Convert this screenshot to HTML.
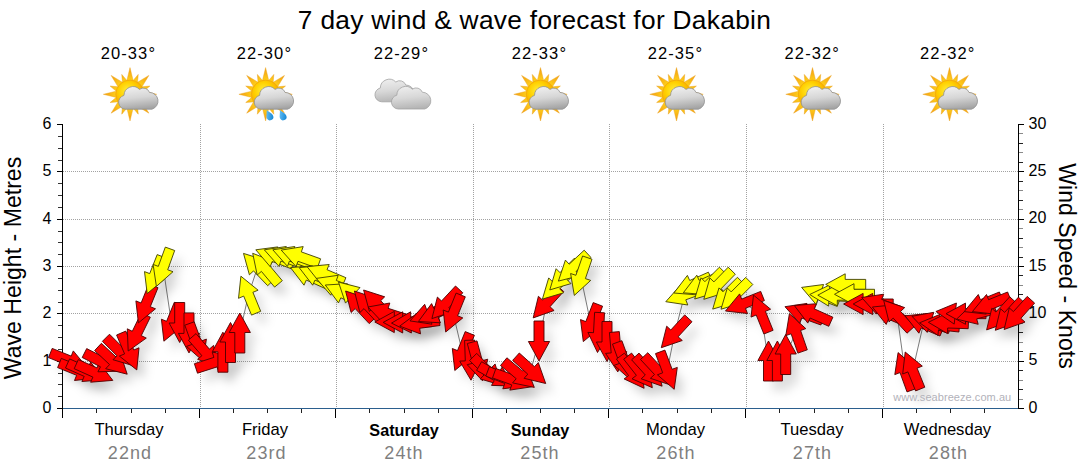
<!DOCTYPE html><html><head><meta charset="utf-8"><title>7 day wind &amp; wave forecast for Dakabin</title><style>
html,body{margin:0;padding:0;background:#fff;}
body{width:1080px;height:475px;position:relative;overflow:hidden;font-family:"Liberation Sans",sans-serif;color:#000;}
.t{position:absolute;white-space:nowrap;line-height:1;}
.c{transform:translateX(-50%);}
#title{left:534.5px;top:7px;font-size:26.3px;letter-spacing:0.3px;}
.temp{top:45px;font-size:16.5px;letter-spacing:1.1px;}
.day{top:422px;font-size:16.6px;}
.date{top:444.1px;font-size:18px;color:#7f7f7f;letter-spacing:1.1px;}
.yl{font-size:16px;}
.yr{font-size:16px;}
#wm{left:893.3px;top:392px;font-size:11px;color:#b2b2ba;letter-spacing:0.06px;}
#lab1{left:13.8px;top:267.6px;font-size:23.1px;transform:translate(-50%,-50%) rotate(-90deg);}
#lab2{left:1066.2px;top:266px;font-size:23.1px;transform:translate(-50%,-50%) rotate(90deg);}

</style></head><body>
<svg width="1080" height="475" viewBox="0 0 1080 475" style="position:absolute;left:0;top:0">
<defs>
<filter id="sh" x="-50%" y="-50%" width="200%" height="200%">
<feGaussianBlur in="SourceGraphic" stdDeviation="5"/>
<feOffset dx="8" dy="10" result="o"/>
</filter>
<radialGradient id="sun" cx="42%" cy="38%" r="62%"><stop offset="0" stop-color="#ffee3c"/><stop offset="0.5" stop-color="#ffd000"/><stop offset="1" stop-color="#f5a000"/></radialGradient>
<linearGradient id="cl" x1="0.3" y1="0" x2="0.5" y2="1"><stop offset="0" stop-color="#f0f0f0"/><stop offset="0.5" stop-color="#d6d6d6"/><stop offset="1" stop-color="#a4a4a4"/></linearGradient><linearGradient id="cl2" x1="0.3" y1="0" x2="0.5" y2="1"><stop offset="0" stop-color="#eeeeee"/><stop offset="0.5" stop-color="#d8d8d8"/><stop offset="1" stop-color="#b4b4b4"/></linearGradient>
<linearGradient id="drop" x1="0" y1="0" x2="1" y2="1"><stop offset="0" stop-color="#7fd0ff"/><stop offset="1" stop-color="#0a7fd0"/></linearGradient>
<linearGradient id="ray" gradientUnits="userSpaceOnUse" x1="0" y1="-13" x2="0" y2="-27"><stop offset="0" stop-color="#ffd21a"/><stop offset="1" stop-color="#f39a12"/></linearGradient>
<g id="sunicon">
 <g fill="url(#ray)" stroke="#e9a21a" stroke-width="0.4">
  <polygon points="0,-26.7 -3.6,-12 3.6,-12"/>
  <polygon points="0,-26.7 -3.6,-12 3.6,-12" transform="rotate(45)"/>
  <polygon points="0,-26.7 -3.6,-12 3.6,-12" transform="rotate(90)"/>
  <polygon points="0,-26.7 -3.6,-12 3.6,-12" transform="rotate(135)"/>
  <polygon points="0,-26.7 -3.6,-12 3.6,-12" transform="rotate(180)"/>
  <polygon points="0,-26.7 -3.6,-12 3.6,-12" transform="rotate(225)"/>
  <polygon points="0,-26.7 -3.6,-12 3.6,-12" transform="rotate(270)"/>
  <polygon points="0,-26.7 -3.6,-12 3.6,-12" transform="rotate(315)"/>
  <polygon points="0,-21.5 -3,-12 3,-12" transform="rotate(22.5)"/>
  <polygon points="0,-21.5 -3,-12 3,-12" transform="rotate(67.5)"/>
  <polygon points="0,-21.5 -3,-12 3,-12" transform="rotate(112.5)"/>
  <polygon points="0,-21.5 -3,-12 3,-12" transform="rotate(157.5)"/>
  <polygon points="0,-21.5 -3,-12 3,-12" transform="rotate(202.5)"/>
  <polygon points="0,-21.5 -3,-12 3,-12" transform="rotate(247.5)"/>
  <polygon points="0,-21.5 -3,-12 3,-12" transform="rotate(292.5)"/>
  <polygon points="0,-21.5 -3,-12 3,-12" transform="rotate(337.5)"/>
 </g>
 <circle cx="0" cy="0" r="14.2" fill="url(#sun)" stroke="#f2a60c" stroke-width="0.8"/>
</g>
<g id="cloud">
 <path d="M-13,11.2 a7,7 0 0 1 -1.5,-13.8 a9,9 0 0 1 15.5,-6 a6.5,6.5 0 0 1 10,3 a8.6,8.6 0 0 1 2.5,16.8 z" fill="url(#cl)" stroke="#8f8f8f" stroke-width="0.8"/>
</g>
<g id="cloud2">
 <path d="M-13,11.2 a7,7 0 0 1 -1.5,-13.8 a9,9 0 0 1 15.5,-6 a6.5,6.5 0 0 1 10,3 a8.6,8.6 0 0 1 2.5,16.8 z" fill="url(#cl2)" stroke="#a2a2a2" stroke-width="0.8"/>
</g>
</defs>
<g shape-rendering="crispEdges">
<line x1="63" y1="361.5" x2="1018" y2="361.5" stroke="#a2a2a2" stroke-width="1" stroke-dasharray="1,1"/>
<line x1="63" y1="313.5" x2="1018" y2="313.5" stroke="#a2a2a2" stroke-width="1" stroke-dasharray="1,1"/>
<line x1="63" y1="266.5" x2="1018" y2="266.5" stroke="#a2a2a2" stroke-width="1" stroke-dasharray="1,1"/>
<line x1="63" y1="219.5" x2="1018" y2="219.5" stroke="#a2a2a2" stroke-width="1" stroke-dasharray="1,1"/>
<line x1="63" y1="171.5" x2="1018" y2="171.5" stroke="#a2a2a2" stroke-width="1" stroke-dasharray="1,1"/>
<line x1="200.5" y1="124" x2="200.5" y2="408" stroke="#a2a2a2" stroke-width="1" stroke-dasharray="1,1"/>
<line x1="336.5" y1="124" x2="336.5" y2="408" stroke="#a2a2a2" stroke-width="1" stroke-dasharray="1,1"/>
<line x1="473.5" y1="124" x2="473.5" y2="408" stroke="#a2a2a2" stroke-width="1" stroke-dasharray="1,1"/>
<line x1="609.5" y1="124" x2="609.5" y2="408" stroke="#a2a2a2" stroke-width="1" stroke-dasharray="1,1"/>
<line x1="746.5" y1="124" x2="746.5" y2="408" stroke="#a2a2a2" stroke-width="1" stroke-dasharray="1,1"/>
<line x1="883.5" y1="124" x2="883.5" y2="408" stroke="#a2a2a2" stroke-width="1" stroke-dasharray="1,1"/>
<line x1="62.5" y1="124" x2="62.5" y2="418" stroke="#000" stroke-width="1"/>
<line x1="57" y1="408.5" x2="62" y2="408.5" stroke="#000" stroke-width="1"/>
<line x1="58" y1="396.5" x2="62" y2="396.5" stroke="#333" stroke-width="1"/>
<line x1="58" y1="384.5" x2="62" y2="384.5" stroke="#333" stroke-width="1"/>
<line x1="58" y1="373.5" x2="62" y2="373.5" stroke="#333" stroke-width="1"/>
<line x1="57" y1="361.5" x2="62" y2="361.5" stroke="#000" stroke-width="1"/>
<line x1="58" y1="349.5" x2="62" y2="349.5" stroke="#333" stroke-width="1"/>
<line x1="58" y1="337.5" x2="62" y2="337.5" stroke="#333" stroke-width="1"/>
<line x1="58" y1="325.5" x2="62" y2="325.5" stroke="#333" stroke-width="1"/>
<line x1="57" y1="313.5" x2="62" y2="313.5" stroke="#000" stroke-width="1"/>
<line x1="58" y1="302.5" x2="62" y2="302.5" stroke="#333" stroke-width="1"/>
<line x1="58" y1="290.5" x2="62" y2="290.5" stroke="#333" stroke-width="1"/>
<line x1="58" y1="278.5" x2="62" y2="278.5" stroke="#333" stroke-width="1"/>
<line x1="57" y1="266.5" x2="62" y2="266.5" stroke="#000" stroke-width="1"/>
<line x1="58" y1="254.5" x2="62" y2="254.5" stroke="#333" stroke-width="1"/>
<line x1="58" y1="242.5" x2="62" y2="242.5" stroke="#333" stroke-width="1"/>
<line x1="58" y1="231.5" x2="62" y2="231.5" stroke="#333" stroke-width="1"/>
<line x1="57" y1="219.5" x2="62" y2="219.5" stroke="#000" stroke-width="1"/>
<line x1="58" y1="207.5" x2="62" y2="207.5" stroke="#333" stroke-width="1"/>
<line x1="58" y1="195.5" x2="62" y2="195.5" stroke="#333" stroke-width="1"/>
<line x1="58" y1="183.5" x2="62" y2="183.5" stroke="#333" stroke-width="1"/>
<line x1="57" y1="171.5" x2="62" y2="171.5" stroke="#000" stroke-width="1"/>
<line x1="58" y1="160.5" x2="62" y2="160.5" stroke="#333" stroke-width="1"/>
<line x1="58" y1="148.5" x2="62" y2="148.5" stroke="#333" stroke-width="1"/>
<line x1="58" y1="136.5" x2="62" y2="136.5" stroke="#333" stroke-width="1"/>
<line x1="57" y1="124.5" x2="62" y2="124.5" stroke="#000" stroke-width="1"/>
<line x1="1018.5" y1="124" x2="1018.5" y2="409" stroke="#000" stroke-width="1"/>
<line x1="1019" y1="408.5" x2="1024" y2="408.5" stroke="#000" stroke-width="1"/>
<line x1="1019" y1="399.5" x2="1023" y2="399.5" stroke="#8a8a8a" stroke-width="1"/>
<line x1="1019" y1="389.5" x2="1023" y2="389.5" stroke="#222" stroke-width="1"/>
<line x1="1019" y1="380.5" x2="1023" y2="380.5" stroke="#8a8a8a" stroke-width="1"/>
<line x1="1019" y1="370.5" x2="1023" y2="370.5" stroke="#222" stroke-width="1"/>
<line x1="1019" y1="361.5" x2="1024" y2="361.5" stroke="#000" stroke-width="1"/>
<line x1="1019" y1="351.5" x2="1023" y2="351.5" stroke="#222" stroke-width="1"/>
<line x1="1019" y1="342.5" x2="1023" y2="342.5" stroke="#8a8a8a" stroke-width="1"/>
<line x1="1019" y1="332.5" x2="1023" y2="332.5" stroke="#222" stroke-width="1"/>
<line x1="1019" y1="323.5" x2="1023" y2="323.5" stroke="#8a8a8a" stroke-width="1"/>
<line x1="1019" y1="313.5" x2="1024" y2="313.5" stroke="#000" stroke-width="1"/>
<line x1="1019" y1="304.5" x2="1023" y2="304.5" stroke="#8a8a8a" stroke-width="1"/>
<line x1="1019" y1="294.5" x2="1023" y2="294.5" stroke="#222" stroke-width="1"/>
<line x1="1019" y1="285.5" x2="1023" y2="285.5" stroke="#8a8a8a" stroke-width="1"/>
<line x1="1019" y1="275.5" x2="1023" y2="275.5" stroke="#222" stroke-width="1"/>
<line x1="1019" y1="266.5" x2="1024" y2="266.5" stroke="#000" stroke-width="1"/>
<line x1="1019" y1="257.5" x2="1023" y2="257.5" stroke="#222" stroke-width="1"/>
<line x1="1019" y1="247.5" x2="1023" y2="247.5" stroke="#8a8a8a" stroke-width="1"/>
<line x1="1019" y1="238.5" x2="1023" y2="238.5" stroke="#222" stroke-width="1"/>
<line x1="1019" y1="228.5" x2="1023" y2="228.5" stroke="#8a8a8a" stroke-width="1"/>
<line x1="1019" y1="219.5" x2="1024" y2="219.5" stroke="#000" stroke-width="1"/>
<line x1="1019" y1="209.5" x2="1023" y2="209.5" stroke="#8a8a8a" stroke-width="1"/>
<line x1="1019" y1="200.5" x2="1023" y2="200.5" stroke="#222" stroke-width="1"/>
<line x1="1019" y1="190.5" x2="1023" y2="190.5" stroke="#8a8a8a" stroke-width="1"/>
<line x1="1019" y1="181.5" x2="1023" y2="181.5" stroke="#222" stroke-width="1"/>
<line x1="1019" y1="171.5" x2="1024" y2="171.5" stroke="#000" stroke-width="1"/>
<line x1="1019" y1="162.5" x2="1023" y2="162.5" stroke="#222" stroke-width="1"/>
<line x1="1019" y1="152.5" x2="1023" y2="152.5" stroke="#8a8a8a" stroke-width="1"/>
<line x1="1019" y1="143.5" x2="1023" y2="143.5" stroke="#222" stroke-width="1"/>
<line x1="1019" y1="133.5" x2="1023" y2="133.5" stroke="#8a8a8a" stroke-width="1"/>
<line x1="1019" y1="124.5" x2="1024" y2="124.5" stroke="#000" stroke-width="1"/>
<line x1="63" y1="408.5" x2="1018" y2="408.5" stroke="#2b5f8e" stroke-width="1"/>
<line x1="96.5" y1="409" x2="96.5" y2="413" stroke="#222" stroke-width="1"/>
<line x1="131.5" y1="409" x2="131.5" y2="413" stroke="#222" stroke-width="1"/>
<line x1="165.5" y1="409" x2="165.5" y2="413" stroke="#222" stroke-width="1"/>
<line x1="199.5" y1="409" x2="199.5" y2="418" stroke="#000" stroke-width="1"/>
<line x1="233.5" y1="409" x2="233.5" y2="413" stroke="#222" stroke-width="1"/>
<line x1="267.5" y1="409" x2="267.5" y2="413" stroke="#222" stroke-width="1"/>
<line x1="301.5" y1="409" x2="301.5" y2="413" stroke="#222" stroke-width="1"/>
<line x1="335.5" y1="409" x2="335.5" y2="418" stroke="#000" stroke-width="1"/>
<line x1="369.5" y1="409" x2="369.5" y2="413" stroke="#222" stroke-width="1"/>
<line x1="404.5" y1="409" x2="404.5" y2="413" stroke="#222" stroke-width="1"/>
<line x1="438.5" y1="409" x2="438.5" y2="413" stroke="#222" stroke-width="1"/>
<line x1="472.5" y1="409" x2="472.5" y2="418" stroke="#000" stroke-width="1"/>
<line x1="506.5" y1="409" x2="506.5" y2="413" stroke="#222" stroke-width="1"/>
<line x1="540.5" y1="409" x2="540.5" y2="413" stroke="#222" stroke-width="1"/>
<line x1="574.5" y1="409" x2="574.5" y2="413" stroke="#222" stroke-width="1"/>
<line x1="608.5" y1="409" x2="608.5" y2="418" stroke="#000" stroke-width="1"/>
<line x1="642.5" y1="409" x2="642.5" y2="413" stroke="#222" stroke-width="1"/>
<line x1="677.5" y1="409" x2="677.5" y2="413" stroke="#222" stroke-width="1"/>
<line x1="711.5" y1="409" x2="711.5" y2="413" stroke="#222" stroke-width="1"/>
<line x1="745.5" y1="409" x2="745.5" y2="418" stroke="#000" stroke-width="1"/>
<line x1="779.5" y1="409" x2="779.5" y2="413" stroke="#222" stroke-width="1"/>
<line x1="814.5" y1="409" x2="814.5" y2="413" stroke="#222" stroke-width="1"/>
<line x1="848.5" y1="409" x2="848.5" y2="413" stroke="#222" stroke-width="1"/>
<line x1="882.5" y1="409" x2="882.5" y2="418" stroke="#000" stroke-width="1"/>
<line x1="916.5" y1="409" x2="916.5" y2="413" stroke="#222" stroke-width="1"/>
<line x1="950.5" y1="409" x2="950.5" y2="413" stroke="#222" stroke-width="1"/>
<line x1="984.5" y1="409" x2="984.5" y2="413" stroke="#222" stroke-width="1"/>
</g>
<polyline fill="none" stroke="#7c7c7c" stroke-width="1" points="68.9,360.5 78.0,370.5 85.8,371.6 94.5,372.3 102.3,362.1 112.6,360.6 120.1,351.9 129.0,351.5 137.0,333.0 145.9,304.4 154.5,275.0 163.2,267.6 171.4,322.7 179.7,322.5 189.0,332.9 196.3,342.3 205.3,352.0 215.0,362.3 222.9,352.2 230.5,342.5 239.8,333.0 248.5,294.7 257.4,267.8 265.6,268.6 274.5,257.0 283.1,256.6 291.6,256.6 300.1,256.8 308.8,275.7 317.5,275.7 325.5,274.5 335.0,285.4 343.4,293.5 353.1,295.7 359.2,305.6 368.0,305.6 377.4,304.5 387.0,313.2 394.8,322.0 403.2,322.4 411.5,322.4 419.5,323.3 428.8,314.1 436.5,313.0 445.5,304.0 453.2,313.5 462.3,352.0 470.3,360.2 477.3,361.5 487.3,371.1 496.4,376.0 506.2,378.7 513.0,380.0 519.0,374.5 530.8,370.1 539.0,341.0 546.6,303.0 556.5,285.0 563.9,275.8 573.0,267.5 580.8,276.5 590.6,323.0 598.5,332.5 607.0,341.5 616.1,352.0 624.0,361.2 632.3,372.2 640.0,371.9 648.7,371.3 657.8,370.7 667.2,370.6 674.8,333.0 684.6,294.9 692.2,284.9 701.6,284.7 708.8,284.9 717.8,285.0 726.8,295.0 735.1,295.1 744.0,303.5 761.0,313.6 768.5,361.0 777.4,361.0 785.7,354.5 796.0,332.6 803.8,313.5 812.6,313.6 820.3,294.6 829.7,295.5 837.8,295.2 845.7,284.4 854.5,294.3 863.6,304.0 873.2,304.0 880.5,304.3 890.8,314.8 897.2,315.1 904.9,371.4 912.7,370.5 923.5,323.6 931.0,322.5 939.5,324.9 948.4,323.0 955.8,313.6 966.0,313.7 975.9,313.9 982.7,304.1 990.9,304.1 1000.0,315.0 1008.7,315.4 1017.5,314.6"/>
<g filter="url(#sh)">
<polygon points="52.2,348.4 71.2,356.1 73.3,350.9 87.4,368.0 65.4,370.5 67.5,365.3 48.5,357.6" fill="#000" fill-opacity="0.11"/>
<polygon points="61.3,358.4 80.3,366.1 82.4,360.9 96.5,378.0 74.5,380.5 76.6,375.3 57.6,367.6" fill="#000" fill-opacity="0.11"/>
<polygon points="69.6,358.9 88.3,367.2 90.6,362.1 104.1,379.7 81.9,381.5 84.2,376.4 65.5,368.0" fill="#000" fill-opacity="0.11"/>
<polygon points="78.3,359.6 97.0,367.9 99.3,362.8 112.8,380.4 90.6,382.2 92.9,377.1 74.2,368.7" fill="#000" fill-opacity="0.11"/>
<polygon points="86.7,348.6 105.0,357.9 107.6,352.9 120.1,371.2 97.9,371.8 100.5,366.8 82.2,357.5" fill="#000" fill-opacity="0.11"/>
<polygon points="101.4,343.3 116.4,357.3 120.2,353.2 127.2,374.2 105.7,368.7 109.6,364.6 94.6,350.6" fill="#000" fill-opacity="0.11"/>
<polygon points="109.5,334.2 124.0,348.7 127.9,344.8 134.2,366.0 113.0,359.7 116.9,355.8 102.4,341.3" fill="#000" fill-opacity="0.11"/>
<polygon points="125.8,331.1 133.8,350.0 139.0,347.8 136.8,369.9 119.4,356.1 124.6,353.9 116.6,335.0" fill="#000" fill-opacity="0.11"/>
<polygon points="150.3,317.2 141.3,335.6 146.3,338.1 128.2,351.0 127.3,328.8 132.3,331.3 141.3,312.8" fill="#000" fill-opacity="0.11"/>
<polygon points="158.0,287.7 150.3,306.7 155.5,308.8 138.4,322.9 135.9,300.9 141.1,303.0 148.8,284.0" fill="#000" fill-opacity="0.11"/>
<polygon points="166.5,258.2 159.0,277.3 164.2,279.4 147.2,293.6 144.5,271.6 149.7,273.6 157.2,254.6" fill="#000" fill-opacity="0.11"/>
<polygon points="174.7,250.5 167.7,269.8 173.0,271.7 156.4,286.4 153.1,264.4 158.3,266.4 165.3,247.1" fill="#000" fill-opacity="0.11"/>
<polygon points="183.5,306.0 175.8,325.0 181.0,327.1 163.9,341.2 161.4,319.2 166.6,321.3 174.3,302.3" fill="#000" fill-opacity="0.11"/>
<polygon points="184.7,302.5 184.7,323.0 190.3,323.0 179.7,342.5 169.1,323.0 174.7,323.0 174.7,302.5" fill="#000" fill-opacity="0.11"/>
<polygon points="194.0,312.9 194.0,333.4 199.6,333.4 189.0,352.9 178.4,333.4 184.0,333.4 184.0,312.9" fill="#000" fill-opacity="0.11"/>
<polygon points="194.2,321.8 201.2,341.1 206.4,339.1 203.1,361.1 186.5,346.4 191.8,344.5 184.8,325.2" fill="#000" fill-opacity="0.11"/>
<polygon points="196.0,333.6 209.4,349.1 213.6,345.4 218.4,367.1 197.6,359.3 201.9,355.7 188.4,340.2" fill="#000" fill-opacity="0.11"/>
<polygon points="194.4,363.7 213.9,357.4 212.2,352.1 234.0,356.1 218.8,372.2 217.0,366.9 197.5,373.2" fill="#000" fill-opacity="0.11"/>
<polygon points="217.9,372.2 217.9,351.7 212.3,351.7 222.9,332.2 233.5,351.7 227.9,351.7 227.9,372.2" fill="#000" fill-opacity="0.11"/>
<polygon points="225.5,362.5 225.5,342.0 219.9,342.0 230.5,322.5 241.1,342.0 235.5,342.0 235.5,362.5" fill="#000" fill-opacity="0.11"/>
<polygon points="234.8,353.0 234.8,332.5 229.2,332.5 239.8,313.0 250.4,332.5 244.8,332.5 244.8,353.0" fill="#000" fill-opacity="0.11"/>
<polygon points="251.5,315.1 243.7,296.1 238.5,298.3 240.9,276.2 258.1,290.2 252.9,292.3 260.7,311.3" fill="#000" fill-opacity="0.11"/>
<polygon points="267.7,285.7 253.5,270.9 249.4,274.8 243.5,253.4 264.7,260.1 260.6,264.0 274.9,278.7" fill="#000" fill-opacity="0.11"/>
<polygon points="274.6,287.1 261.4,271.4 257.2,275.0 252.7,253.3 273.4,261.4 269.1,265.0 282.3,280.7" fill="#000" fill-opacity="0.11"/>
<polygon points="291.4,268.8 272.2,261.5 270.2,266.7 255.8,249.8 277.8,246.9 275.8,252.2 295.0,259.5" fill="#000" fill-opacity="0.11"/>
<polygon points="300.2,268.1 280.9,261.1 279.0,266.4 264.3,249.8 286.3,246.5 284.3,251.7 303.6,258.7" fill="#000" fill-opacity="0.11"/>
<polygon points="308.7,268.1 289.4,261.1 287.5,266.4 272.8,249.8 294.8,246.5 292.8,251.7 312.1,258.7" fill="#000" fill-opacity="0.11"/>
<polygon points="317.3,268.2 298.0,261.3 296.1,266.6 281.2,250.1 303.2,246.6 301.3,251.9 320.6,258.8" fill="#000" fill-opacity="0.11"/>
<polygon points="325.0,288.4 306.3,280.1 304.0,285.2 290.5,267.6 312.7,265.8 310.4,270.9 329.1,279.3" fill="#000" fill-opacity="0.11"/>
<polygon points="333.7,288.4 315.0,280.1 312.7,285.2 299.2,267.6 321.4,265.8 319.1,270.9 337.8,279.3" fill="#000" fill-opacity="0.11"/>
<polygon points="342.0,286.9 323.1,278.9 320.9,284.1 307.1,266.7 329.2,264.5 327.0,269.7 345.9,277.7" fill="#000" fill-opacity="0.11"/>
<polygon points="352.0,297.1 332.8,289.9 330.8,295.2 316.3,278.4 338.2,275.3 336.3,280.5 355.5,287.7" fill="#000" fill-opacity="0.11"/>
<polygon points="359.4,306.5 340.8,297.8 338.5,302.9 325.3,285.0 347.4,283.7 345.1,288.8 363.6,297.4" fill="#000" fill-opacity="0.11"/>
<polygon points="364.3,313.0 349.3,299.0 345.5,303.1 338.5,282.1 360.0,287.6 356.1,291.7 371.1,305.7" fill="#000" fill-opacity="0.11"/>
<polygon points="369.2,323.6 355.2,308.6 351.1,312.5 345.6,291.0 366.6,298.0 362.5,301.8 376.5,316.8" fill="#000" fill-opacity="0.11"/>
<polygon points="378.0,323.6 364.0,308.6 359.9,312.5 354.4,291.0 375.4,298.0 371.3,301.8 385.3,316.8" fill="#000" fill-opacity="0.11"/>
<polygon points="387.5,322.4 373.4,307.6 369.4,311.4 363.6,290.0 384.7,296.8 380.7,300.7 394.8,315.6" fill="#000" fill-opacity="0.11"/>
<polygon points="404.5,324.1 385.0,317.8 383.2,323.1 368.0,307.0 389.8,303.0 388.1,308.3 407.6,314.6" fill="#000" fill-opacity="0.11"/>
<polygon points="414.8,327.0 394.3,327.0 394.3,332.6 374.8,322.0 394.3,311.4 394.3,317.0 414.8,317.0" fill="#000" fill-opacity="0.11"/>
<polygon points="423.2,327.4 402.7,327.4 402.7,333.0 383.2,322.4 402.7,311.8 402.7,317.4 423.2,317.4" fill="#000" fill-opacity="0.11"/>
<polygon points="431.7,326.7 411.2,327.4 411.4,333.0 391.5,323.1 410.6,311.8 410.8,317.4 431.3,316.7" fill="#000" fill-opacity="0.11"/>
<polygon points="440.0,325.5 419.7,328.3 420.5,333.9 399.7,326.1 417.5,312.9 418.3,318.4 438.6,315.6" fill="#000" fill-opacity="0.11"/>
<polygon points="449.3,312.0 430.0,319.0 432.0,324.2 410.0,320.9 424.7,304.3 426.6,309.6 445.9,302.6" fill="#000" fill-opacity="0.11"/>
<polygon points="456.7,309.1 438.2,317.7 440.5,322.8 418.4,321.5 431.6,303.6 433.9,308.7 452.5,300.0" fill="#000" fill-opacity="0.11"/>
<polygon points="462.8,292.8 448.8,307.8 452.9,311.6 431.9,318.6 437.4,297.1 441.5,301.0 455.5,286.0" fill="#000" fill-opacity="0.11"/>
<polygon points="465.3,296.8 457.6,315.8 462.8,317.9 445.7,332.0 443.2,310.0 448.4,312.1 456.1,293.1" fill="#000" fill-opacity="0.11"/>
<polygon points="474.4,335.3 466.7,354.3 471.9,356.4 454.8,370.5 452.3,348.5 457.5,350.6 465.2,331.6" fill="#000" fill-opacity="0.11"/>
<polygon points="474.6,340.0 475.3,360.5 480.9,360.3 471.0,380.2 459.7,361.1 465.3,360.9 464.6,340.4" fill="#000" fill-opacity="0.11"/>
<polygon points="477.0,340.9 482.3,360.7 487.7,359.2 482.5,380.8 467.2,364.7 472.6,363.3 467.3,343.5" fill="#000" fill-opacity="0.11"/>
<polygon points="476.7,353.4 491.2,367.9 495.1,364.0 501.4,385.2 480.2,378.9 484.1,375.0 469.6,360.5" fill="#000" fill-opacity="0.11"/>
<polygon points="481.6,361.7 499.3,371.9 502.1,367.1 513.7,386.0 491.5,385.4 494.3,380.6 476.6,370.3" fill="#000" fill-opacity="0.11"/>
<polygon points="489.4,366.7 508.5,374.2 510.5,369.0 524.8,386.0 502.8,388.8 504.8,383.5 485.8,376.1" fill="#000" fill-opacity="0.11"/>
<polygon points="495.9,368.5 515.2,375.5 517.1,370.2 531.8,386.8 509.8,390.1 511.8,384.9 492.5,377.9" fill="#000" fill-opacity="0.11"/>
<polygon points="506.9,357.8 522.6,371.0 526.2,366.7 534.3,387.4 512.6,382.9 516.2,378.7 500.5,365.5" fill="#000" fill-opacity="0.11"/>
<polygon points="519.3,353.0 534.5,366.7 538.3,362.6 545.7,383.5 524.1,378.3 527.8,374.2 512.6,360.4" fill="#000" fill-opacity="0.11"/>
<polygon points="544.0,321.0 544.0,341.5 549.6,341.5 539.0,361.0 528.4,341.5 534.0,341.5 534.0,321.0" fill="#000" fill-opacity="0.11"/>
<polygon points="563.7,291.5 550.0,306.7 554.1,310.5 533.2,317.9 538.4,296.3 542.5,300.0 556.3,284.8" fill="#000" fill-opacity="0.11"/>
<polygon points="574.2,274.4 559.7,288.9 563.6,292.8 542.4,299.1 548.7,277.9 552.6,281.8 567.1,267.3" fill="#000" fill-opacity="0.11"/>
<polygon points="581.6,265.2 567.1,279.7 571.0,283.6 549.8,289.9 556.1,268.7 560.0,272.6 574.5,258.1" fill="#000" fill-opacity="0.11"/>
<polygon points="591.0,257.5 576.0,271.5 579.9,275.6 558.4,281.1 565.4,260.1 569.2,264.2 584.2,250.2" fill="#000" fill-opacity="0.11"/>
<polygon points="592.0,259.2 585.4,278.6 590.7,280.4 574.3,295.4 570.6,273.5 575.9,275.3 582.6,256.0" fill="#000" fill-opacity="0.11"/>
<polygon points="602.6,306.2 595.1,325.3 600.3,327.3 583.3,341.6 580.5,319.6 585.8,321.6 593.2,302.6" fill="#000" fill-opacity="0.11"/>
<polygon points="604.5,312.8 603.5,333.3 609.1,333.6 597.5,352.5 587.9,332.4 593.5,332.7 594.6,312.3" fill="#000" fill-opacity="0.11"/>
<polygon points="612.0,321.5 612.0,342.0 617.6,342.0 607.0,361.5 596.4,342.0 602.0,342.0 602.0,321.5" fill="#000" fill-opacity="0.11"/>
<polygon points="619.3,331.6 621.1,352.1 626.7,351.6 617.8,371.9 605.6,353.4 611.2,352.9 609.4,332.5" fill="#000" fill-opacity="0.11"/>
<polygon points="621.9,340.7 628.9,360.0 634.1,358.0 630.8,380.0 614.2,365.3 619.5,363.4 612.5,344.1" fill="#000" fill-opacity="0.11"/>
<polygon points="624.5,353.1 636.6,369.6 641.1,366.3 644.1,388.3 624.1,378.9 628.6,375.6 616.4,359.0" fill="#000" fill-opacity="0.11"/>
<polygon points="631.6,353.1 644.2,369.2 648.7,365.8 652.3,387.7 632.0,378.8 636.4,375.4 623.7,359.2" fill="#000" fill-opacity="0.11"/>
<polygon points="639.0,353.1 652.8,368.3 656.9,364.6 662.1,386.2 641.2,378.8 645.3,375.0 631.6,359.8" fill="#000" fill-opacity="0.11"/>
<polygon points="647.8,352.7 661.8,367.7 665.9,363.8 671.4,385.3 650.4,378.3 654.5,374.5 640.5,359.5" fill="#000" fill-opacity="0.11"/>
<polygon points="664.9,350.1 672.1,369.3 677.3,367.4 674.2,389.3 657.4,374.8 662.7,372.8 655.5,353.6" fill="#000" fill-opacity="0.11"/>
<polygon points="692.0,321.7 678.1,336.8 682.3,340.5 661.3,347.7 666.7,326.2 670.8,330.0 684.7,314.9" fill="#000" fill-opacity="0.11"/>
<polygon points="705.1,292.8 685.8,299.8 687.8,305.0 665.8,301.7 680.5,285.1 682.4,290.4 701.7,283.4" fill="#000" fill-opacity="0.11"/>
<polygon points="712.5,281.3 693.8,289.7 696.1,294.8 673.9,293.0 687.4,275.4 689.7,280.5 708.4,272.2" fill="#000" fill-opacity="0.11"/>
<polygon points="721.9,281.1 703.2,289.5 705.5,294.6 683.3,292.8 696.8,275.2 699.1,280.3 717.8,272.0" fill="#000" fill-opacity="0.11"/>
<polygon points="726.5,274.3 712.0,288.8 715.9,292.7 694.7,299.0 701.0,277.8 704.9,281.7 719.4,267.2" fill="#000" fill-opacity="0.11"/>
<polygon points="735.3,274.2 721.0,288.8 725.0,292.8 703.8,299.3 709.9,278.0 713.9,281.9 728.2,267.2" fill="#000" fill-opacity="0.11"/>
<polygon points="744.5,284.4 730.0,298.9 733.9,302.8 712.7,309.1 719.0,287.9 722.9,291.8 737.4,277.3" fill="#000" fill-opacity="0.11"/>
<polygon points="752.8,284.5 738.3,299.0 742.2,302.9 721.0,309.2 727.3,288.0 731.2,291.9 745.7,277.4" fill="#000" fill-opacity="0.11"/>
<polygon points="764.4,300.6 745.4,308.3 747.5,313.5 725.5,311.0 739.6,293.9 741.7,299.1 760.7,291.4" fill="#000" fill-opacity="0.11"/>
<polygon points="763.9,334.0 756.2,315.0 751.0,317.1 753.5,295.1 770.6,309.2 765.4,311.3 773.1,330.3" fill="#000" fill-opacity="0.11"/>
<polygon points="763.5,381.0 763.5,360.5 757.9,360.5 768.5,341.0 779.1,360.5 773.5,360.5 773.5,381.0" fill="#000" fill-opacity="0.11"/>
<polygon points="772.4,381.0 772.4,360.5 766.8,360.5 777.4,341.0 788.0,360.5 782.4,360.5 782.4,381.0" fill="#000" fill-opacity="0.11"/>
<polygon points="780.7,374.5 780.7,354.0 775.1,354.0 785.7,334.5 796.3,354.0 790.7,354.0 790.7,374.5" fill="#000" fill-opacity="0.11"/>
<polygon points="797.9,353.1 791.1,333.8 785.8,335.6 789.4,313.7 805.8,328.6 800.6,330.5 807.3,349.8" fill="#000" fill-opacity="0.11"/>
<polygon points="820.9,325.0 801.6,318.0 799.7,323.3 785.0,306.7 807.0,303.4 805.0,308.6 824.3,315.6" fill="#000" fill-opacity="0.11"/>
<polygon points="828.8,326.3 810.1,318.0 807.8,323.1 794.3,305.5 816.5,303.7 814.2,308.8 832.9,317.2" fill="#000" fill-opacity="0.11"/>
<polygon points="837.2,306.4 818.0,299.1 816.0,304.3 801.6,287.4 823.6,284.5 821.6,289.8 840.8,297.1" fill="#000" fill-opacity="0.11"/>
<polygon points="849.4,301.5 828.9,300.5 828.6,306.1 809.7,294.5 829.8,284.9 829.5,290.5 849.9,291.6" fill="#000" fill-opacity="0.11"/>
<polygon points="857.8,300.2 837.3,300.2 837.3,305.8 817.8,295.2 837.3,284.6 837.3,290.2 857.8,290.2" fill="#000" fill-opacity="0.11"/>
<polygon points="865.7,289.4 845.2,289.4 845.2,295.0 825.7,284.4 845.2,273.8 845.2,279.4 865.7,279.4" fill="#000" fill-opacity="0.11"/>
<polygon points="874.5,299.3 854.0,299.3 854.0,304.9 834.5,294.3 854.0,283.7 854.0,289.3 874.5,289.3" fill="#000" fill-opacity="0.11"/>
<polygon points="883.6,309.0 863.1,309.0 863.1,314.6 843.6,304.0 863.1,293.4 863.1,299.0 883.6,299.0" fill="#000" fill-opacity="0.11"/>
<polygon points="893.2,309.0 872.7,309.0 872.7,314.6 853.2,304.0 872.7,293.4 872.7,299.0 893.2,299.0" fill="#000" fill-opacity="0.11"/>
<polygon points="897.6,315.8 878.3,308.8 876.4,314.1 861.7,297.5 883.7,294.2 881.7,299.4 901.0,306.4" fill="#000" fill-opacity="0.11"/>
<polygon points="907.3,327.2 888.4,319.2 886.2,324.4 872.4,307.0 894.5,304.8 892.3,310.0 911.2,318.0" fill="#000" fill-opacity="0.11"/>
<polygon points="907.0,333.2 893.2,318.1 889.0,321.9 883.7,300.4 904.7,307.6 900.5,311.4 914.4,326.5" fill="#000" fill-opacity="0.11"/>
<polygon points="907.0,391.9 900.0,372.6 894.8,374.6 898.1,352.6 914.7,367.3 909.4,369.2 916.4,388.5" fill="#000" fill-opacity="0.11"/>
<polygon points="915.6,390.9 907.9,371.9 902.7,374.0 905.2,352.0 922.3,366.1 917.1,368.2 924.8,387.2" fill="#000" fill-opacity="0.11"/>
<polygon points="940.0,336.0 921.1,328.0 918.9,333.2 905.1,315.8 927.2,313.6 925.0,318.8 943.9,326.8" fill="#000" fill-opacity="0.11"/>
<polygon points="948.5,333.4 929.0,327.1 927.2,332.4 912.0,316.3 933.8,312.3 932.1,317.6 951.6,323.9" fill="#000" fill-opacity="0.11"/>
<polygon points="958.9,332.0 938.5,329.8 937.9,335.4 919.6,322.8 940.1,314.3 939.5,319.9 959.9,322.0" fill="#000" fill-opacity="0.11"/>
<polygon points="968.2,328.7 947.7,328.0 947.5,333.6 928.4,322.3 948.3,312.4 948.1,318.0 968.6,318.7" fill="#000" fill-opacity="0.11"/>
<polygon points="975.2,320.7 954.8,318.5 954.2,324.1 935.9,311.5 956.4,303.0 955.8,308.6 976.2,310.7" fill="#000" fill-opacity="0.11"/>
<polygon points="986.0,318.7 965.5,318.7 965.5,324.3 946.0,313.7 965.5,303.1 965.5,308.7 986.0,308.7" fill="#000" fill-opacity="0.11"/>
<polygon points="996.5,313.6 976.7,318.9 978.2,324.3 956.6,319.1 972.7,303.8 974.1,309.2 993.9,303.9" fill="#000" fill-opacity="0.11"/>
<polygon points="1003.1,301.2 984.1,308.9 986.2,314.1 964.2,311.6 978.3,294.5 980.4,299.7 999.4,292.0" fill="#000" fill-opacity="0.11"/>
<polygon points="1011.3,301.2 992.3,308.9 994.4,314.1 972.4,311.6 986.5,294.5 988.6,299.7 1007.6,292.0" fill="#000" fill-opacity="0.11"/>
<polygon points="1017.1,303.5 1003.4,318.7 1007.5,322.5 986.6,329.9 991.8,308.3 995.9,312.0 1009.7,296.8" fill="#000" fill-opacity="0.11"/>
<polygon points="1025.8,303.9 1012.1,319.1 1016.2,322.9 995.3,330.3 1000.5,308.7 1004.6,312.4 1018.4,297.2" fill="#000" fill-opacity="0.11"/>
<polygon points="1034.6,303.1 1020.9,318.3 1025.0,322.1 1004.1,329.5 1009.3,307.9 1013.4,311.6 1027.2,296.4" fill="#000" fill-opacity="0.11"/>
</g>
<polygon points="52.2,348.4 71.2,356.1 73.3,350.9 87.4,368.0 65.4,370.5 67.5,365.3 48.5,357.6" fill="#ff0000" stroke="#4a0000" stroke-width="0.9" stroke-linejoin="miter"/>
<polygon points="61.3,358.4 80.3,366.1 82.4,360.9 96.5,378.0 74.5,380.5 76.6,375.3 57.6,367.6" fill="#ff0000" stroke="#4a0000" stroke-width="0.9" stroke-linejoin="miter"/>
<polygon points="69.6,358.9 88.3,367.2 90.6,362.1 104.1,379.7 81.9,381.5 84.2,376.4 65.5,368.0" fill="#ff0000" stroke="#4a0000" stroke-width="0.9" stroke-linejoin="miter"/>
<polygon points="78.3,359.6 97.0,367.9 99.3,362.8 112.8,380.4 90.6,382.2 92.9,377.1 74.2,368.7" fill="#ff0000" stroke="#4a0000" stroke-width="0.9" stroke-linejoin="miter"/>
<polygon points="86.7,348.6 105.0,357.9 107.6,352.9 120.1,371.2 97.9,371.8 100.5,366.8 82.2,357.5" fill="#ff0000" stroke="#4a0000" stroke-width="0.9" stroke-linejoin="miter"/>
<polygon points="101.4,343.3 116.4,357.3 120.2,353.2 127.2,374.2 105.7,368.7 109.6,364.6 94.6,350.6" fill="#ff0000" stroke="#4a0000" stroke-width="0.9" stroke-linejoin="miter"/>
<polygon points="109.5,334.2 124.0,348.7 127.9,344.8 134.2,366.0 113.0,359.7 116.9,355.8 102.4,341.3" fill="#ff0000" stroke="#4a0000" stroke-width="0.9" stroke-linejoin="miter"/>
<polygon points="125.8,331.1 133.8,350.0 139.0,347.8 136.8,369.9 119.4,356.1 124.6,353.9 116.6,335.0" fill="#ff0000" stroke="#4a0000" stroke-width="0.9" stroke-linejoin="miter"/>
<polygon points="150.3,317.2 141.3,335.6 146.3,338.1 128.2,351.0 127.3,328.8 132.3,331.3 141.3,312.8" fill="#ff0000" stroke="#4a0000" stroke-width="0.9" stroke-linejoin="miter"/>
<polygon points="158.0,287.7 150.3,306.7 155.5,308.8 138.4,322.9 135.9,300.9 141.1,303.0 148.8,284.0" fill="#ff0000" stroke="#4a0000" stroke-width="0.9" stroke-linejoin="miter"/>
<polygon points="166.5,258.2 159.0,277.3 164.2,279.4 147.2,293.6 144.5,271.6 149.7,273.6 157.2,254.6" fill="#ffff00" stroke="#3e3e00" stroke-width="0.9" stroke-linejoin="miter"/>
<polygon points="174.7,250.5 167.7,269.8 173.0,271.7 156.4,286.4 153.1,264.4 158.3,266.4 165.3,247.1" fill="#ffff00" stroke="#3e3e00" stroke-width="0.9" stroke-linejoin="miter"/>
<polygon points="183.5,306.0 175.8,325.0 181.0,327.1 163.9,341.2 161.4,319.2 166.6,321.3 174.3,302.3" fill="#ff0000" stroke="#4a0000" stroke-width="0.9" stroke-linejoin="miter"/>
<polygon points="184.7,302.5 184.7,323.0 190.3,323.0 179.7,342.5 169.1,323.0 174.7,323.0 174.7,302.5" fill="#ff0000" stroke="#4a0000" stroke-width="0.9" stroke-linejoin="miter"/>
<polygon points="194.0,312.9 194.0,333.4 199.6,333.4 189.0,352.9 178.4,333.4 184.0,333.4 184.0,312.9" fill="#ff0000" stroke="#4a0000" stroke-width="0.9" stroke-linejoin="miter"/>
<polygon points="194.2,321.8 201.2,341.1 206.4,339.1 203.1,361.1 186.5,346.4 191.8,344.5 184.8,325.2" fill="#ff0000" stroke="#4a0000" stroke-width="0.9" stroke-linejoin="miter"/>
<polygon points="196.0,333.6 209.4,349.1 213.6,345.4 218.4,367.1 197.6,359.3 201.9,355.7 188.4,340.2" fill="#ff0000" stroke="#4a0000" stroke-width="0.9" stroke-linejoin="miter"/>
<polygon points="194.4,363.7 213.9,357.4 212.2,352.1 234.0,356.1 218.8,372.2 217.0,366.9 197.5,373.2" fill="#ff0000" stroke="#4a0000" stroke-width="0.9" stroke-linejoin="miter"/>
<polygon points="217.9,372.2 217.9,351.7 212.3,351.7 222.9,332.2 233.5,351.7 227.9,351.7 227.9,372.2" fill="#ff0000" stroke="#4a0000" stroke-width="0.9" stroke-linejoin="miter"/>
<polygon points="225.5,362.5 225.5,342.0 219.9,342.0 230.5,322.5 241.1,342.0 235.5,342.0 235.5,362.5" fill="#ff0000" stroke="#4a0000" stroke-width="0.9" stroke-linejoin="miter"/>
<polygon points="234.8,353.0 234.8,332.5 229.2,332.5 239.8,313.0 250.4,332.5 244.8,332.5 244.8,353.0" fill="#ff0000" stroke="#4a0000" stroke-width="0.9" stroke-linejoin="miter"/>
<polygon points="251.5,315.1 243.7,296.1 238.5,298.3 240.9,276.2 258.1,290.2 252.9,292.3 260.7,311.3" fill="#ffff00" stroke="#3e3e00" stroke-width="0.9" stroke-linejoin="miter"/>
<polygon points="267.7,285.7 253.5,270.9 249.4,274.8 243.5,253.4 264.7,260.1 260.6,264.0 274.9,278.7" fill="#ffff00" stroke="#3e3e00" stroke-width="0.9" stroke-linejoin="miter"/>
<polygon points="274.6,287.1 261.4,271.4 257.2,275.0 252.7,253.3 273.4,261.4 269.1,265.0 282.3,280.7" fill="#ffff00" stroke="#3e3e00" stroke-width="0.9" stroke-linejoin="miter"/>
<polygon points="291.4,268.8 272.2,261.5 270.2,266.7 255.8,249.8 277.8,246.9 275.8,252.2 295.0,259.5" fill="#ffff00" stroke="#3e3e00" stroke-width="0.9" stroke-linejoin="miter"/>
<polygon points="300.2,268.1 280.9,261.1 279.0,266.4 264.3,249.8 286.3,246.5 284.3,251.7 303.6,258.7" fill="#ffff00" stroke="#3e3e00" stroke-width="0.9" stroke-linejoin="miter"/>
<polygon points="308.7,268.1 289.4,261.1 287.5,266.4 272.8,249.8 294.8,246.5 292.8,251.7 312.1,258.7" fill="#ffff00" stroke="#3e3e00" stroke-width="0.9" stroke-linejoin="miter"/>
<polygon points="317.3,268.2 298.0,261.3 296.1,266.6 281.2,250.1 303.2,246.6 301.3,251.9 320.6,258.8" fill="#ffff00" stroke="#3e3e00" stroke-width="0.9" stroke-linejoin="miter"/>
<polygon points="325.0,288.4 306.3,280.1 304.0,285.2 290.5,267.6 312.7,265.8 310.4,270.9 329.1,279.3" fill="#ffff00" stroke="#3e3e00" stroke-width="0.9" stroke-linejoin="miter"/>
<polygon points="333.7,288.4 315.0,280.1 312.7,285.2 299.2,267.6 321.4,265.8 319.1,270.9 337.8,279.3" fill="#ffff00" stroke="#3e3e00" stroke-width="0.9" stroke-linejoin="miter"/>
<polygon points="342.0,286.9 323.1,278.9 320.9,284.1 307.1,266.7 329.2,264.5 327.0,269.7 345.9,277.7" fill="#ffff00" stroke="#3e3e00" stroke-width="0.9" stroke-linejoin="miter"/>
<polygon points="352.0,297.1 332.8,289.9 330.8,295.2 316.3,278.4 338.2,275.3 336.3,280.5 355.5,287.7" fill="#ffff00" stroke="#3e3e00" stroke-width="0.9" stroke-linejoin="miter"/>
<polygon points="359.4,306.5 340.8,297.8 338.5,302.9 325.3,285.0 347.4,283.7 345.1,288.8 363.6,297.4" fill="#ffff00" stroke="#3e3e00" stroke-width="0.9" stroke-linejoin="miter"/>
<polygon points="364.3,313.0 349.3,299.0 345.5,303.1 338.5,282.1 360.0,287.6 356.1,291.7 371.1,305.7" fill="#ffff00" stroke="#3e3e00" stroke-width="0.9" stroke-linejoin="miter"/>
<polygon points="369.2,323.6 355.2,308.6 351.1,312.5 345.6,291.0 366.6,298.0 362.5,301.8 376.5,316.8" fill="#ff0000" stroke="#4a0000" stroke-width="0.9" stroke-linejoin="miter"/>
<polygon points="378.0,323.6 364.0,308.6 359.9,312.5 354.4,291.0 375.4,298.0 371.3,301.8 385.3,316.8" fill="#ff0000" stroke="#4a0000" stroke-width="0.9" stroke-linejoin="miter"/>
<polygon points="387.5,322.4 373.4,307.6 369.4,311.4 363.6,290.0 384.7,296.8 380.7,300.7 394.8,315.6" fill="#ff0000" stroke="#4a0000" stroke-width="0.9" stroke-linejoin="miter"/>
<polygon points="404.5,324.1 385.0,317.8 383.2,323.1 368.0,307.0 389.8,303.0 388.1,308.3 407.6,314.6" fill="#ff0000" stroke="#4a0000" stroke-width="0.9" stroke-linejoin="miter"/>
<polygon points="414.8,327.0 394.3,327.0 394.3,332.6 374.8,322.0 394.3,311.4 394.3,317.0 414.8,317.0" fill="#ff0000" stroke="#4a0000" stroke-width="0.9" stroke-linejoin="miter"/>
<polygon points="423.2,327.4 402.7,327.4 402.7,333.0 383.2,322.4 402.7,311.8 402.7,317.4 423.2,317.4" fill="#ff0000" stroke="#4a0000" stroke-width="0.9" stroke-linejoin="miter"/>
<polygon points="431.7,326.7 411.2,327.4 411.4,333.0 391.5,323.1 410.6,311.8 410.8,317.4 431.3,316.7" fill="#ff0000" stroke="#4a0000" stroke-width="0.9" stroke-linejoin="miter"/>
<polygon points="440.0,325.5 419.7,328.3 420.5,333.9 399.7,326.1 417.5,312.9 418.3,318.4 438.6,315.6" fill="#ff0000" stroke="#4a0000" stroke-width="0.9" stroke-linejoin="miter"/>
<polygon points="449.3,312.0 430.0,319.0 432.0,324.2 410.0,320.9 424.7,304.3 426.6,309.6 445.9,302.6" fill="#ff0000" stroke="#4a0000" stroke-width="0.9" stroke-linejoin="miter"/>
<polygon points="456.7,309.1 438.2,317.7 440.5,322.8 418.4,321.5 431.6,303.6 433.9,308.7 452.5,300.0" fill="#ff0000" stroke="#4a0000" stroke-width="0.9" stroke-linejoin="miter"/>
<polygon points="462.8,292.8 448.8,307.8 452.9,311.6 431.9,318.6 437.4,297.1 441.5,301.0 455.5,286.0" fill="#ff0000" stroke="#4a0000" stroke-width="0.9" stroke-linejoin="miter"/>
<polygon points="465.3,296.8 457.6,315.8 462.8,317.9 445.7,332.0 443.2,310.0 448.4,312.1 456.1,293.1" fill="#ff0000" stroke="#4a0000" stroke-width="0.9" stroke-linejoin="miter"/>
<polygon points="474.4,335.3 466.7,354.3 471.9,356.4 454.8,370.5 452.3,348.5 457.5,350.6 465.2,331.6" fill="#ff0000" stroke="#4a0000" stroke-width="0.9" stroke-linejoin="miter"/>
<polygon points="474.6,340.0 475.3,360.5 480.9,360.3 471.0,380.2 459.7,361.1 465.3,360.9 464.6,340.4" fill="#ff0000" stroke="#4a0000" stroke-width="0.9" stroke-linejoin="miter"/>
<polygon points="477.0,340.9 482.3,360.7 487.7,359.2 482.5,380.8 467.2,364.7 472.6,363.3 467.3,343.5" fill="#ff0000" stroke="#4a0000" stroke-width="0.9" stroke-linejoin="miter"/>
<polygon points="476.7,353.4 491.2,367.9 495.1,364.0 501.4,385.2 480.2,378.9 484.1,375.0 469.6,360.5" fill="#ff0000" stroke="#4a0000" stroke-width="0.9" stroke-linejoin="miter"/>
<polygon points="481.6,361.7 499.3,371.9 502.1,367.1 513.7,386.0 491.5,385.4 494.3,380.6 476.6,370.3" fill="#ff0000" stroke="#4a0000" stroke-width="0.9" stroke-linejoin="miter"/>
<polygon points="489.4,366.7 508.5,374.2 510.5,369.0 524.8,386.0 502.8,388.8 504.8,383.5 485.8,376.1" fill="#ff0000" stroke="#4a0000" stroke-width="0.9" stroke-linejoin="miter"/>
<polygon points="495.9,368.5 515.2,375.5 517.1,370.2 531.8,386.8 509.8,390.1 511.8,384.9 492.5,377.9" fill="#ff0000" stroke="#4a0000" stroke-width="0.9" stroke-linejoin="miter"/>
<polygon points="506.9,357.8 522.6,371.0 526.2,366.7 534.3,387.4 512.6,382.9 516.2,378.7 500.5,365.5" fill="#ff0000" stroke="#4a0000" stroke-width="0.9" stroke-linejoin="miter"/>
<polygon points="519.3,353.0 534.5,366.7 538.3,362.6 545.7,383.5 524.1,378.3 527.8,374.2 512.6,360.4" fill="#ff0000" stroke="#4a0000" stroke-width="0.9" stroke-linejoin="miter"/>
<polygon points="544.0,321.0 544.0,341.5 549.6,341.5 539.0,361.0 528.4,341.5 534.0,341.5 534.0,321.0" fill="#ff0000" stroke="#4a0000" stroke-width="0.9" stroke-linejoin="miter"/>
<polygon points="563.7,291.5 550.0,306.7 554.1,310.5 533.2,317.9 538.4,296.3 542.5,300.0 556.3,284.8" fill="#ff0000" stroke="#4a0000" stroke-width="0.9" stroke-linejoin="miter"/>
<polygon points="574.2,274.4 559.7,288.9 563.6,292.8 542.4,299.1 548.7,277.9 552.6,281.8 567.1,267.3" fill="#ffff00" stroke="#3e3e00" stroke-width="0.9" stroke-linejoin="miter"/>
<polygon points="581.6,265.2 567.1,279.7 571.0,283.6 549.8,289.9 556.1,268.7 560.0,272.6 574.5,258.1" fill="#ffff00" stroke="#3e3e00" stroke-width="0.9" stroke-linejoin="miter"/>
<polygon points="591.0,257.5 576.0,271.5 579.9,275.6 558.4,281.1 565.4,260.1 569.2,264.2 584.2,250.2" fill="#ffff00" stroke="#3e3e00" stroke-width="0.9" stroke-linejoin="miter"/>
<polygon points="592.0,259.2 585.4,278.6 590.7,280.4 574.3,295.4 570.6,273.5 575.9,275.3 582.6,256.0" fill="#ffff00" stroke="#3e3e00" stroke-width="0.9" stroke-linejoin="miter"/>
<polygon points="602.6,306.2 595.1,325.3 600.3,327.3 583.3,341.6 580.5,319.6 585.8,321.6 593.2,302.6" fill="#ff0000" stroke="#4a0000" stroke-width="0.9" stroke-linejoin="miter"/>
<polygon points="604.5,312.8 603.5,333.3 609.1,333.6 597.5,352.5 587.9,332.4 593.5,332.7 594.6,312.3" fill="#ff0000" stroke="#4a0000" stroke-width="0.9" stroke-linejoin="miter"/>
<polygon points="612.0,321.5 612.0,342.0 617.6,342.0 607.0,361.5 596.4,342.0 602.0,342.0 602.0,321.5" fill="#ff0000" stroke="#4a0000" stroke-width="0.9" stroke-linejoin="miter"/>
<polygon points="619.3,331.6 621.1,352.1 626.7,351.6 617.8,371.9 605.6,353.4 611.2,352.9 609.4,332.5" fill="#ff0000" stroke="#4a0000" stroke-width="0.9" stroke-linejoin="miter"/>
<polygon points="621.9,340.7 628.9,360.0 634.1,358.0 630.8,380.0 614.2,365.3 619.5,363.4 612.5,344.1" fill="#ff0000" stroke="#4a0000" stroke-width="0.9" stroke-linejoin="miter"/>
<polygon points="624.5,353.1 636.6,369.6 641.1,366.3 644.1,388.3 624.1,378.9 628.6,375.6 616.4,359.0" fill="#ff0000" stroke="#4a0000" stroke-width="0.9" stroke-linejoin="miter"/>
<polygon points="631.6,353.1 644.2,369.2 648.7,365.8 652.3,387.7 632.0,378.8 636.4,375.4 623.7,359.2" fill="#ff0000" stroke="#4a0000" stroke-width="0.9" stroke-linejoin="miter"/>
<polygon points="639.0,353.1 652.8,368.3 656.9,364.6 662.1,386.2 641.2,378.8 645.3,375.0 631.6,359.8" fill="#ff0000" stroke="#4a0000" stroke-width="0.9" stroke-linejoin="miter"/>
<polygon points="647.8,352.7 661.8,367.7 665.9,363.8 671.4,385.3 650.4,378.3 654.5,374.5 640.5,359.5" fill="#ff0000" stroke="#4a0000" stroke-width="0.9" stroke-linejoin="miter"/>
<polygon points="664.9,350.1 672.1,369.3 677.3,367.4 674.2,389.3 657.4,374.8 662.7,372.8 655.5,353.6" fill="#ff0000" stroke="#4a0000" stroke-width="0.9" stroke-linejoin="miter"/>
<polygon points="692.0,321.7 678.1,336.8 682.3,340.5 661.3,347.7 666.7,326.2 670.8,330.0 684.7,314.9" fill="#ff0000" stroke="#4a0000" stroke-width="0.9" stroke-linejoin="miter"/>
<polygon points="705.1,292.8 685.8,299.8 687.8,305.0 665.8,301.7 680.5,285.1 682.4,290.4 701.7,283.4" fill="#ffff00" stroke="#3e3e00" stroke-width="0.9" stroke-linejoin="miter"/>
<polygon points="712.5,281.3 693.8,289.7 696.1,294.8 673.9,293.0 687.4,275.4 689.7,280.5 708.4,272.2" fill="#ffff00" stroke="#3e3e00" stroke-width="0.9" stroke-linejoin="miter"/>
<polygon points="721.9,281.1 703.2,289.5 705.5,294.6 683.3,292.8 696.8,275.2 699.1,280.3 717.8,272.0" fill="#ffff00" stroke="#3e3e00" stroke-width="0.9" stroke-linejoin="miter"/>
<polygon points="726.5,274.3 712.0,288.8 715.9,292.7 694.7,299.0 701.0,277.8 704.9,281.7 719.4,267.2" fill="#ffff00" stroke="#3e3e00" stroke-width="0.9" stroke-linejoin="miter"/>
<polygon points="735.3,274.2 721.0,288.8 725.0,292.8 703.8,299.3 709.9,278.0 713.9,281.9 728.2,267.2" fill="#ffff00" stroke="#3e3e00" stroke-width="0.9" stroke-linejoin="miter"/>
<polygon points="744.5,284.4 730.0,298.9 733.9,302.8 712.7,309.1 719.0,287.9 722.9,291.8 737.4,277.3" fill="#ffff00" stroke="#3e3e00" stroke-width="0.9" stroke-linejoin="miter"/>
<polygon points="752.8,284.5 738.3,299.0 742.2,302.9 721.0,309.2 727.3,288.0 731.2,291.9 745.7,277.4" fill="#ffff00" stroke="#3e3e00" stroke-width="0.9" stroke-linejoin="miter"/>
<polygon points="764.4,300.6 745.4,308.3 747.5,313.5 725.5,311.0 739.6,293.9 741.7,299.1 760.7,291.4" fill="#ff0000" stroke="#4a0000" stroke-width="0.9" stroke-linejoin="miter"/>
<polygon points="763.9,334.0 756.2,315.0 751.0,317.1 753.5,295.1 770.6,309.2 765.4,311.3 773.1,330.3" fill="#ff0000" stroke="#4a0000" stroke-width="0.9" stroke-linejoin="miter"/>
<polygon points="763.5,381.0 763.5,360.5 757.9,360.5 768.5,341.0 779.1,360.5 773.5,360.5 773.5,381.0" fill="#ff0000" stroke="#4a0000" stroke-width="0.9" stroke-linejoin="miter"/>
<polygon points="772.4,381.0 772.4,360.5 766.8,360.5 777.4,341.0 788.0,360.5 782.4,360.5 782.4,381.0" fill="#ff0000" stroke="#4a0000" stroke-width="0.9" stroke-linejoin="miter"/>
<polygon points="780.7,374.5 780.7,354.0 775.1,354.0 785.7,334.5 796.3,354.0 790.7,354.0 790.7,374.5" fill="#ff0000" stroke="#4a0000" stroke-width="0.9" stroke-linejoin="miter"/>
<polygon points="797.9,353.1 791.1,333.8 785.8,335.6 789.4,313.7 805.8,328.6 800.6,330.5 807.3,349.8" fill="#ff0000" stroke="#4a0000" stroke-width="0.9" stroke-linejoin="miter"/>
<polygon points="820.9,325.0 801.6,318.0 799.7,323.3 785.0,306.7 807.0,303.4 805.0,308.6 824.3,315.6" fill="#ff0000" stroke="#4a0000" stroke-width="0.9" stroke-linejoin="miter"/>
<polygon points="828.8,326.3 810.1,318.0 807.8,323.1 794.3,305.5 816.5,303.7 814.2,308.8 832.9,317.2" fill="#ff0000" stroke="#4a0000" stroke-width="0.9" stroke-linejoin="miter"/>
<polygon points="837.2,306.4 818.0,299.1 816.0,304.3 801.6,287.4 823.6,284.5 821.6,289.8 840.8,297.1" fill="#ffff00" stroke="#3e3e00" stroke-width="0.9" stroke-linejoin="miter"/>
<polygon points="849.4,301.5 828.9,300.5 828.6,306.1 809.7,294.5 829.8,284.9 829.5,290.5 849.9,291.6" fill="#ffff00" stroke="#3e3e00" stroke-width="0.9" stroke-linejoin="miter"/>
<polygon points="857.8,300.2 837.3,300.2 837.3,305.8 817.8,295.2 837.3,284.6 837.3,290.2 857.8,290.2" fill="#ffff00" stroke="#3e3e00" stroke-width="0.9" stroke-linejoin="miter"/>
<polygon points="865.7,289.4 845.2,289.4 845.2,295.0 825.7,284.4 845.2,273.8 845.2,279.4 865.7,279.4" fill="#ffff00" stroke="#3e3e00" stroke-width="0.9" stroke-linejoin="miter"/>
<polygon points="874.5,299.3 854.0,299.3 854.0,304.9 834.5,294.3 854.0,283.7 854.0,289.3 874.5,289.3" fill="#ffff00" stroke="#3e3e00" stroke-width="0.9" stroke-linejoin="miter"/>
<polygon points="883.6,309.0 863.1,309.0 863.1,314.6 843.6,304.0 863.1,293.4 863.1,299.0 883.6,299.0" fill="#ff0000" stroke="#4a0000" stroke-width="0.9" stroke-linejoin="miter"/>
<polygon points="893.2,309.0 872.7,309.0 872.7,314.6 853.2,304.0 872.7,293.4 872.7,299.0 893.2,299.0" fill="#ff0000" stroke="#4a0000" stroke-width="0.9" stroke-linejoin="miter"/>
<polygon points="897.6,315.8 878.3,308.8 876.4,314.1 861.7,297.5 883.7,294.2 881.7,299.4 901.0,306.4" fill="#ff0000" stroke="#4a0000" stroke-width="0.9" stroke-linejoin="miter"/>
<polygon points="907.3,327.2 888.4,319.2 886.2,324.4 872.4,307.0 894.5,304.8 892.3,310.0 911.2,318.0" fill="#ff0000" stroke="#4a0000" stroke-width="0.9" stroke-linejoin="miter"/>
<polygon points="907.0,333.2 893.2,318.1 889.0,321.9 883.7,300.4 904.7,307.6 900.5,311.4 914.4,326.5" fill="#ff0000" stroke="#4a0000" stroke-width="0.9" stroke-linejoin="miter"/>
<polygon points="907.0,391.9 900.0,372.6 894.8,374.6 898.1,352.6 914.7,367.3 909.4,369.2 916.4,388.5" fill="#ff0000" stroke="#4a0000" stroke-width="0.9" stroke-linejoin="miter"/>
<polygon points="915.6,390.9 907.9,371.9 902.7,374.0 905.2,352.0 922.3,366.1 917.1,368.2 924.8,387.2" fill="#ff0000" stroke="#4a0000" stroke-width="0.9" stroke-linejoin="miter"/>
<polygon points="940.0,336.0 921.1,328.0 918.9,333.2 905.1,315.8 927.2,313.6 925.0,318.8 943.9,326.8" fill="#ff0000" stroke="#4a0000" stroke-width="0.9" stroke-linejoin="miter"/>
<polygon points="948.5,333.4 929.0,327.1 927.2,332.4 912.0,316.3 933.8,312.3 932.1,317.6 951.6,323.9" fill="#ff0000" stroke="#4a0000" stroke-width="0.9" stroke-linejoin="miter"/>
<polygon points="958.9,332.0 938.5,329.8 937.9,335.4 919.6,322.8 940.1,314.3 939.5,319.9 959.9,322.0" fill="#ff0000" stroke="#4a0000" stroke-width="0.9" stroke-linejoin="miter"/>
<polygon points="968.2,328.7 947.7,328.0 947.5,333.6 928.4,322.3 948.3,312.4 948.1,318.0 968.6,318.7" fill="#ff0000" stroke="#4a0000" stroke-width="0.9" stroke-linejoin="miter"/>
<polygon points="975.2,320.7 954.8,318.5 954.2,324.1 935.9,311.5 956.4,303.0 955.8,308.6 976.2,310.7" fill="#ff0000" stroke="#4a0000" stroke-width="0.9" stroke-linejoin="miter"/>
<polygon points="986.0,318.7 965.5,318.7 965.5,324.3 946.0,313.7 965.5,303.1 965.5,308.7 986.0,308.7" fill="#ff0000" stroke="#4a0000" stroke-width="0.9" stroke-linejoin="miter"/>
<polygon points="996.5,313.6 976.7,318.9 978.2,324.3 956.6,319.1 972.7,303.8 974.1,309.2 993.9,303.9" fill="#ff0000" stroke="#4a0000" stroke-width="0.9" stroke-linejoin="miter"/>
<polygon points="1003.1,301.2 984.1,308.9 986.2,314.1 964.2,311.6 978.3,294.5 980.4,299.7 999.4,292.0" fill="#ff0000" stroke="#4a0000" stroke-width="0.9" stroke-linejoin="miter"/>
<polygon points="1011.3,301.2 992.3,308.9 994.4,314.1 972.4,311.6 986.5,294.5 988.6,299.7 1007.6,292.0" fill="#ff0000" stroke="#4a0000" stroke-width="0.9" stroke-linejoin="miter"/>
<polygon points="1017.1,303.5 1003.4,318.7 1007.5,322.5 986.6,329.9 991.8,308.3 995.9,312.0 1009.7,296.8" fill="#ff0000" stroke="#4a0000" stroke-width="0.9" stroke-linejoin="miter"/>
<polygon points="1025.8,303.9 1012.1,319.1 1016.2,322.9 995.3,330.3 1000.5,308.7 1004.6,312.4 1018.4,297.2" fill="#ff0000" stroke="#4a0000" stroke-width="0.9" stroke-linejoin="miter"/>
<polygon points="1034.6,303.1 1020.9,318.3 1025.0,322.1 1004.1,329.5 1009.3,307.9 1013.4,311.6 1027.2,296.4" fill="#ff0000" stroke="#4a0000" stroke-width="0.9" stroke-linejoin="miter"/>
<use href="#sunicon" x="130" y="94.3"/>
<use href="#cloud" x="138.5" y="98"/>
<use href="#sunicon" x="265.6" y="94.3"/>
<use href="#cloud" x="274.1" y="98"/>
<path d="M0,-4.5 C-1,-2 -3,0.5 -3,2 a3,3 0 0 0 6,0 C3,0.5 1,-2 0,-4.5 z" fill="url(#drop)" transform="translate(268.90000000000003,114.8) rotate(-25) scale(1.15)"/>
<path d="M0,-4.5 C-1,-2 -3,0.5 -3,2 a3,3 0 0 0 6,0 C3,0.5 1,-2 0,-4.5 z" fill="url(#drop)" transform="translate(282.1,114.8) rotate(-25) scale(1.15)"/>
<use href="#cloud2" x="394.8" y="90.6" />
<use href="#cloud2" x="411.3" y="97.8" />
<use href="#sunicon" x="540.5" y="94.3"/>
<use href="#cloud" x="549.0" y="98"/>
<use href="#sunicon" x="676.5" y="94.3"/>
<use href="#cloud" x="685.0" y="98"/>
<use href="#sunicon" x="812.5" y="94.3"/>
<use href="#cloud" x="821.0" y="98"/>
<use href="#sunicon" x="949.5" y="94.3"/>
<use href="#cloud" x="958.0" y="98"/>
</svg>
<div class="t c" id="title">7 day wind &amp; wave forecast for Dakabin</div>
<div class="t c temp" style="left:128.4px">20-33°</div>
<div class="t c temp" style="left:264.4px">22-30°</div>
<div class="t c temp" style="left:401.4px">22-29°</div>
<div class="t c temp" style="left:539.4px">22-33°</div>
<div class="t c temp" style="left:675.4px">22-35°</div>
<div class="t c temp" style="left:812.3px">22-32°</div>
<div class="t c temp" style="left:947.8px">22-32°</div>
<div class="t c day" style="left:129px;">Thursday</div>
<div class="t c date" style="left:130px">22nd</div>
<div class="t c day" style="left:265px;">Friday</div>
<div class="t c date" style="left:266.5px">23rd</div>
<div class="t c day" style="left:404px;font-weight:bold;font-size:16.2px;">Saturday</div>
<div class="t c date" style="left:404px">24th</div>
<div class="t c day" style="left:540px;font-weight:bold;font-size:16.2px;">Sunday</div>
<div class="t c date" style="left:540px">25th</div>
<div class="t c day" style="left:675.5px;">Monday</div>
<div class="t c date" style="left:676.0px">26th</div>
<div class="t c day" style="left:812px;">Tuesday</div>
<div class="t c date" style="left:812.5px">27th</div>
<div class="t c day" style="left:947.5px;">Wednesday</div>
<div class="t c date" style="left:948.5px">28th</div>
<div class="t yl" style="right:1028.5px;top:400.0px">0</div>
<div class="t yl" style="right:1028.5px;top:352.7px">1</div>
<div class="t yl" style="right:1028.5px;top:305.3px">2</div>
<div class="t yl" style="right:1028.5px;top:258.0px">3</div>
<div class="t yl" style="right:1028.5px;top:210.7px">4</div>
<div class="t yl" style="right:1028.5px;top:163.3px">5</div>
<div class="t yl" style="right:1028.5px;top:116.0px">6</div>
<div class="t yr" style="left:1028.5px;top:399.5px">0</div>
<div class="t yr" style="left:1028.5px;top:352.2px">5</div>
<div class="t yr" style="left:1028.5px;top:304.8px">10</div>
<div class="t yr" style="left:1028.5px;top:257.5px">15</div>
<div class="t yr" style="left:1028.5px;top:210.2px">20</div>
<div class="t yr" style="left:1028.5px;top:162.8px">25</div>
<div class="t yr" style="left:1028.5px;top:115.5px">30</div>
<div class="t" id="wm">www.seabreeze.com.au</div>
<div class="t" id="lab1">Wave Height - Metres</div>
<div class="t" id="lab2">Wind Speed - Knots</div>
</body></html>
